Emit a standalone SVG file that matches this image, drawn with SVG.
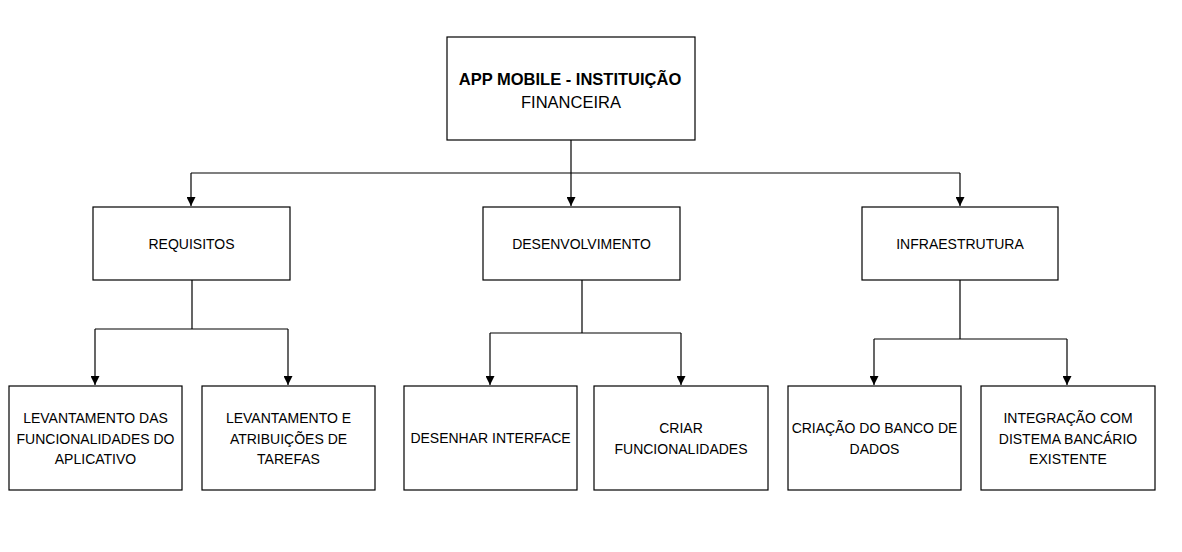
<svg xmlns="http://www.w3.org/2000/svg" width="1182" height="552" viewBox="0 0 1182 552">
<style>
.box{fill:#fff;stroke:#000;stroke-width:1.2}
.t{font-family:"Liberation Sans",Arial,sans-serif;font-size:14px;fill:#000;text-anchor:middle}
.b{font-family:"Liberation Sans",Arial,sans-serif;font-size:16.5px;font-weight:bold;fill:#000;text-anchor:middle}
.r{font-family:"Liberation Sans",Arial,sans-serif;font-size:16.5px;fill:#000;text-anchor:middle}
.c{fill:none;stroke:#000;stroke-width:1.2}
</style>
<defs>
<marker id="ah" viewBox="0 0 10 10" refX="10" refY="5" markerWidth="9" markerHeight="9" markerUnits="userSpaceOnUse" orient="auto">
<path d="M0,0 L10,5 L0,10 z" fill="#000"/>
</marker>
</defs>
<rect width="1182" height="552" fill="#fff"/>
<g id="connectors">
<path class="c" d="M571,140 V173"/>
<path class="c" d="M191,173 H960"/>
<path class="c" d="M191,173 V206" marker-end="url(#ah)"/>
<path class="c" d="M571,173 V206" marker-end="url(#ah)"/>
<path class="c" d="M960,173 V206" marker-end="url(#ah)"/>
<path class="c" d="M192,280 V329 M95,329 H288"/>
<path class="c" d="M95,329 V385" marker-end="url(#ah)"/>
<path class="c" d="M288,329 V385" marker-end="url(#ah)"/>
<path class="c" d="M582,280 V333 M490,333 H681"/>
<path class="c" d="M490,333 V385" marker-end="url(#ah)"/>
<path class="c" d="M681,333 V385" marker-end="url(#ah)"/>
<path class="c" d="M960,280 V339 M874,339 H1067"/>
<path class="c" d="M874,339 V385" marker-end="url(#ah)"/>
<path class="c" d="M1067,339 V385" marker-end="url(#ah)"/>
</g>
<g id="root">
<rect class="box" x="447" y="37" width="248" height="103"/>
<text class="b" x="570" y="85">APP MOBILE - INSTITUIÇÃO</text>
<text class="r" x="571" y="108">FINANCEIRA</text>
</g>
<g id="requisitos">
<rect class="box" x="93" y="207" width="197" height="73"/>
<text class="t" x="191.5" y="249">REQUISITOS</text>
</g>
<g id="desenvolvimento">
<rect class="box" x="483" y="207" width="197" height="73"/>
<text class="t" x="581.5" y="249">DESENVOLVIMENTO</text>
</g>
<g id="infraestrutura">
<rect class="box" x="862" y="207" width="196" height="73"/>
<text class="t" x="960" y="249">INFRAESTRUTURA</text>
</g>
<g id="levantamento-func">
<rect class="box" x="9" y="386" width="173" height="104"/>
<text class="t" x="95.5" y="423">LEVANTAMENTO DAS</text>
<text class="t" x="95.5" y="444">FUNCIONALIDADES DO</text>
<text class="t" x="95.5" y="464">APLICATIVO</text>
</g>
<g id="levantamento-tarefas">
<rect class="box" x="202" y="386" width="173" height="104"/>
<text class="t" x="288.5" y="423">LEVANTAMENTO E</text>
<text class="t" x="288.5" y="444">ATRIBUIÇÕES DE</text>
<text class="t" x="288.5" y="464">TAREFAS</text>
</g>
<g id="desenhar-interface">
<rect class="box" x="404" y="386" width="173" height="104"/>
<text class="t" x="490.5" y="443">DESENHAR INTERFACE</text>
</g>
<g id="criar-func">
<rect class="box" x="594" y="386" width="174" height="104"/>
<text class="t" x="681" y="433">CRIAR</text>
<text class="t" x="681" y="454">FUNCIONALIDADES</text>
</g>
<g id="criacao-banco">
<rect class="box" x="788" y="386" width="173" height="104"/>
<text class="t" x="874.5" y="433">CRIAÇÃO DO BANCO DE</text>
<text class="t" x="874.5" y="454">DADOS</text>
</g>
<g id="integracao">
<rect class="box" x="981" y="386" width="174" height="104"/>
<text class="t" x="1068" y="423">INTEGRAÇÃO COM</text>
<text class="t" x="1068" y="444">DISTEMA BANCÁRIO</text>
<text class="t" x="1068" y="464">EXISTENTE</text>
</g>
</svg>
